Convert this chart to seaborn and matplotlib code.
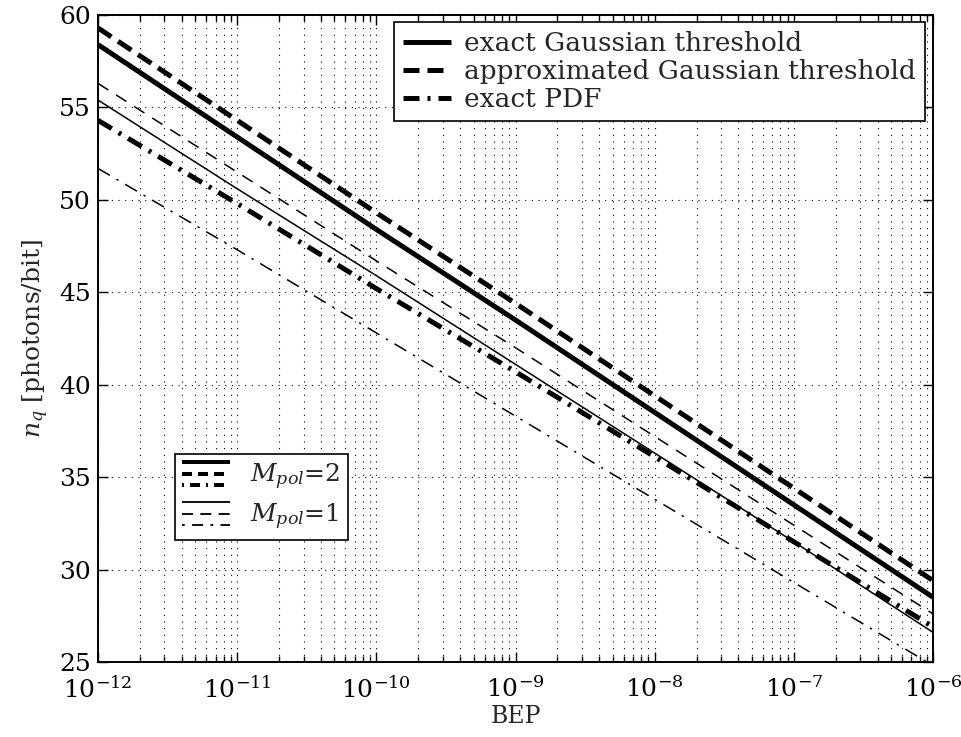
import matplotlib
matplotlib.use("Agg")
import matplotlib.pyplot as plt
import seaborn as sns
import numpy as np
import pandas as pd
from matplotlib.lines import Line2D
from matplotlib.legend_handler import HandlerBase
from matplotlib.ticker import LogLocator, NullFormatter

# ---- data ----
bep = [1e-12, 1e-11, 1e-10, 1e-9, 1e-8, 1e-7, 1e-6]
exact_gauss_m2 = [58.4, 53.4, 48.4, 43.5, 38.5, 33.5, 28.5]
approx_gauss_m2 = [59.3, 54.3, 49.3, 44.4, 39.4, 34.4, 29.4]
exact_pdf_m2 = [54.3, 49.8, 45.2, 40.7, 36.1, 31.5, 26.9]
exact_gauss_m1 = [55.4, 50.6, 45.9, 41.1, 36.3, 31.5, 26.6]
approx_gauss_m1 = [56.3, 51.5, 46.7, 42.0, 37.2, 32.4, 27.6]
exact_pdf_m1 = [51.7, 47.3, 42.8, 38.3, 33.8, 29.3, 24.8]
legend_methods = ["exact Gaussian threshold", "approximated Gaussian threshold", "exact PDF"]
legend_pol = ["$M_{pol}$=2", "$M_{pol}$=1"]
x_ticks = [1e-12, 1e-11, 1e-10, 1e-9, 1e-8, 1e-7, 1e-6]
y_ticks = [25, 30, 35, 40, 45, 50, 55, 60]

sns.set_style("ticks")
plt.rcParams["font.family"] = ["DejaVu Serif"]
plt.rcParams["mathtext.fontset"] = "custom"
plt.rcParams["mathtext.rm"] = "DejaVu Serif"
plt.rcParams["mathtext.it"] = "DejaVu Serif:italic"
plt.rcParams["mathtext.bf"] = "DejaVu Serif:bold"
plt.rcParams["axes.unicode_minus"] = True

fig = plt.figure(figsize=(9.62, 7.37), dpi=100)
ax = fig.add_axes([0.1019, 0.1018, 0.868, 0.8778])

THICK = 3.6
THIN = 1.1
ls_solid = "-"
ls_dash_thick = (0, (3.2, 1.6))
ls_dashdot_thick = (0, (3.2, 1.6, 0.6, 1.6))
ls_dash_thin = (0, (8, 6))
ls_dashdot_thin = (0, (9, 5, 1.5, 5))

series = [
    (exact_gauss_m2, THICK, ls_solid),
    (approx_gauss_m2, THICK, ls_dash_thick),
    (exact_pdf_m2, THICK, ls_dashdot_thick),
    (exact_gauss_m1, THIN, ls_solid),
    (approx_gauss_m1, THIN, ls_dash_thin),
    (exact_pdf_m1, THIN, ls_dashdot_thin),
]
for vals, lw, ls in series:
    df = pd.DataFrame({"BEP": bep, "nq": vals})
    sns.lineplot(data=df, x="BEP", y="nq", ax=ax, color="black", linewidth=lw,
                 linestyle=ls, legend=False, solid_capstyle="butt", dash_capstyle="butt")

ax.set_xscale("log")
ax.set_xlim(1e-12, 1e-6)
ax.set_ylim(25, 60)
ax.set_xticks(x_ticks)
ax.xaxis.set_minor_locator(LogLocator(base=10, subs=np.arange(2, 10), numticks=20))
ax.xaxis.set_minor_formatter(NullFormatter())
ax.set_yticks(y_ticks)
ax.set_yticklabels([str(v) for v in y_ticks])

ax.grid(True, which="major", color="black", linestyle=(0, (1, 5)), linewidth=0.8)
ax.grid(True, which="minor", axis="x", color="black", linestyle=(0, (1, 5)), linewidth=0.8)

for s in ax.spines.values():
    s.set_visible(True)
    s.set_color("black")
    s.set_linewidth(1.4)
ax.tick_params(which="both", direction="in", top=True, right=True, colors="black",
               labelsize=18, width=1.0)
ax.tick_params(which="major", length=7)
ax.tick_params(axis="x", which="major", pad=10)
ax.tick_params(axis="y", which="major", pad=5)
ax.tick_params(which="minor", length=4)

ax.set_xlabel("BEP", fontsize=17, labelpad=2)
ax.set_ylabel("$n_q$ [photons/bit]", fontsize=18, labelpad=6)

# legend 1: methods
h1 = [Line2D([], [], color="black", lw=THICK, linestyle=ls_solid, solid_capstyle="butt"),
      Line2D([], [], color="black", lw=THICK, linestyle=ls_dash_thick, dash_capstyle="butt"),
      Line2D([], [], color="black", lw=THICK, linestyle=ls_dashdot_thick, dash_capstyle="butt")]
leg1 = ax.legend(h1, legend_methods, loc="upper right", bbox_to_anchor=(0.99, 0.99),
                 fontsize=19, frameon=True, fancybox=False, framealpha=1,
                 edgecolor="black", handlelength=1.8, borderpad=0.35, labelspacing=0.12,
                 handletextpad=0.5, borderaxespad=0.0)
leg1.get_frame().set_linewidth(1.2)
ax.add_artist(leg1)


class LineStack:
    def __init__(self, specs):
        self.specs = specs  # list of (linewidth, linestyle)


class StackHandler(HandlerBase):
    def create_artists(self, legend, orig_handle, xdescent, ydescent, width, height,
                       fontsize, trans):
        arts = []
        n = len(orig_handle.specs)
        for i, (lw, ls) in enumerate(orig_handle.specs):
            y = -ydescent + height * (0.95 - 0.9 * i / (n - 1))
            ln = Line2D([-xdescent, -xdescent + width], [y, y], color="black",
                        lw=lw, linestyle=ls, solid_capstyle="butt", dash_capstyle="butt")
            ln.set_transform(trans)
            arts.append(ln)
        return arts


thick_set = LineStack([(THICK * 0.8, "-"),
                       (THICK * 0.8, (0, (2.5, 1.5))),
                       (THICK * 0.8, (0, (0.5, 1.5, 2.5, 1.5)))])
thin_set = LineStack([(THIN * 1.2, "-"),
                      (THIN * 1.2, (0, (6, 4))),
                      (THIN * 1.2, (0, (1.5, 4, 6, 4)))])
leg2 = ax.legend([thick_set, thin_set], legend_pol, loc="lower left",
                 bbox_to_anchor=(0.092, 0.189), fontsize=18, frameon=True,
                 fancybox=False, framealpha=1, edgecolor="black",
                 handler_map={LineStack: StackHandler()}, handlelength=1.9,
                 handleheight=1.2, borderpad=0.3, labelspacing=0.35,
                 handletextpad=0.8, borderaxespad=0.0)
leg2.get_frame().set_linewidth(1.2)

fig.savefig("out.png", dpi=100)
